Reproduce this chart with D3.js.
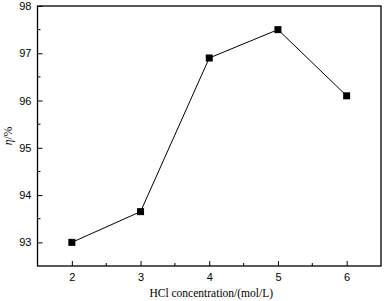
<!DOCTYPE html>
<html><head><meta charset="utf-8">
<script src="https://cdn.jsdelivr.net/npm/d3@7"></script>
<style>body{margin:0;background:#fff}</style>
</head><body>
<script>
const categories = [2, 3, 4, 5, 6];
const values = [93.0, 93.65, 96.9, 97.5, 96.1];
const xTicks = [2, 3, 4, 5, 6];
const yTicks = [93, 94, 95, 96, 97, 98];
const xLabel = "HCl concentration/(mol/L)";

const W = 384, H = 301;
const m = {left: 37.5, top: 6, right: 3, bottom: 35};
const svg = d3.select("body").append("svg").attr("width", W).attr("height", H);
const x = d3.scaleLinear().domain([1.5, 6.5]).range([m.left, W - m.right]);
const y = d3.scaleLinear().domain([92.5, 98]).range([H - m.bottom, m.top]);

const g = svg.append("g");
g.append("rect").attr("x", x(1.5)).attr("y", y(98)).attr("width", x(6.5) - x(1.5)).attr("height", y(92.5) - y(98))
  .attr("fill", "none").attr("stroke", "#000").attr("stroke-width", 1.3);

const xAxis = d3.axisBottom(x).tickValues(xTicks).tickSize(-5).tickPadding(7).tickFormat(d3.format("d"));
const xa = g.append("g").attr("transform", `translate(0,${y(92.5)})`).call(xAxis);
const yAxis = d3.axisLeft(y).tickValues(yTicks).tickSize(-5).tickPadding(6).tickFormat(d3.format("d"));
const ya = g.append("g").attr("transform", `translate(${x(1.5)},0)`).call(yAxis);
[xa, ya].forEach(a => {
  a.select(".domain").remove();
  a.selectAll("text").attr("font-family", "Liberation Sans, Arial, sans-serif").attr("font-size", 11).attr("fill", "#000");
  a.selectAll("line").attr("stroke", "#000");
});
const xMinor = d3.range(2.5, 6.5, 1);
g.selectAll(".xm").data(xMinor).join("line")
  .attr("x1", d => x(d)).attr("x2", d => x(d)).attr("y1", y(92.5)).attr("y2", y(92.5) - 3).attr("stroke", "#000");
const yMinor = d3.range(93.5, 98, 1);
g.selectAll(".ym").data(yMinor).join("line")
  .attr("x1", x(1.5)).attr("x2", x(1.5) + 3).attr("y1", d => y(d)).attr("y2", d => y(d)).attr("stroke", "#000");

const pts = categories.map((c, i) => [c, values[i]]);
g.append("path").datum(pts).attr("fill", "none").attr("stroke", "#000").attr("stroke-width", 1)
  .attr("d", d3.line().x(d => x(d[0])).y(d => y(d[1])));
g.selectAll(".pt").data(pts).join("rect")
  .attr("x", d => x(d[0]) - 3.5).attr("y", d => y(d[1]) - 3.5).attr("width", 7).attr("height", 7).attr("fill", "#000");

svg.append("text").attr("x", (x(1.5) + x(6.5)) / 2 + 2).attr("y", 297).attr("text-anchor", "middle")
  .attr("font-family", "Liberation Serif, Times New Roman, serif").attr("font-size", 11.5).text(xLabel);

const yl = svg.append("text").attr("transform", `translate(12,${(y(92.5)+y(98))/2}) rotate(-90)`).attr("text-anchor", "middle")
  .attr("font-family", "Liberation Serif, Times New Roman, serif").attr("font-size", 11.5);
yl.append("tspan").attr("font-style", "italic").text("η");
yl.append("tspan").text("/%");
</script>
</body></html>
